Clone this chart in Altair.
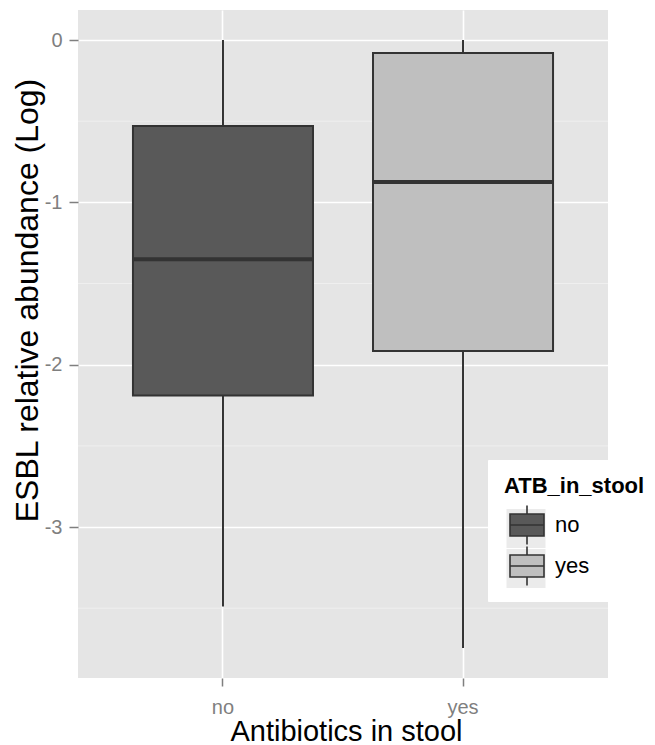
import altair as alt
import pandas as pd

# ---- data ----
groups = ["no", "yes"]
whisker_low = [-3.49, -3.745]
q1 = [-2.19, -1.915]
median = [-1.35, -0.875]
q3 = [-0.53, -0.08]
whisker_high = [0.0, 0.0]
major_ticks = [0, -1, -2, -3]
minor_ticks = [-0.5, -1.5, -2.5, -3.5]
fill_colors = ["#595959", "#BFBFBF"]
key_bg_colors = ["#EBEBEB", "#EBEBEB"]

box_df = pd.DataFrame({
    "ATB_in_stool": groups,
    "key": groups,
    "low": whisker_low,
    "q1": q1,
    "median": median,
    "q3": q3,
    "high": whisker_high,
})
minor_df = pd.DataFrame({"v": minor_ticks})

FONT = "Liberation Sans"
GREY_TXT = "#7F7F7F"
OUTLINE = "#333333"
BLANK = "\u00a0" * 4    # invisible spacer title for the key-background legend

yscale = alt.Scale(domain=[-3.93, 0.185], nice=False, zero=False)
xscale = alt.Scale(domain=groups, paddingInner=0.25, paddingOuter=0.229)

x_axis = alt.Axis(
    title="Antibiotics in stool", labelAngle=0, grid=True, gridColor="white",
    gridWidth=1.6, bandPosition=0.5, domain=False, ticks=True, tickColor=GREY_TXT,
    tickSize=8, tickWidth=1.5, labelColor=GREY_TXT, labelFontSize=20, labelFont=FONT,
    labelPadding=11, labelAlign="center", titleFont=FONT, titleFontSize=29,
    titleFontWeight="normal", titleColor="black", titleX=268, titleY=62,
    titleBaseline="alphabetic", titleAlign="center",
)
y_axis = alt.Axis(
    title="ESBL relative abundance (Log)", values=major_ticks, grid=True,
    gridColor="white", gridWidth=1.6, domain=False, ticks=True, tickColor=GREY_TXT,
    tickSize=9, tickWidth=1.5, labelColor=GREY_TXT, labelFontSize=20, labelFont=FONT,
    labelPadding=7, titleFont=FONT, titleFontSize=32, titleFontWeight="normal",
    titleColor="black", titleAngle=270, titleX=-51, titleY=290,
    titleAlign="center", titleBaseline="middle",
    labelExpr="toString(datum.value)",
)

base = alt.Chart(box_df)

minor = alt.Chart(minor_df).mark_rule(color="#F2F2F2", strokeWidth=0.8).encode(
    y=alt.Y("v:Q", scale=yscale, axis=y_axis)
)

# key background square; the stray zero-width segment only widens the
# white legend box so that it reaches the right edge, as in the reference
key_square = "M-1,-1H1V1H-1Z M6,-1L6,1"

# hidden layer that only provides the grey legend-key backgrounds
key_bg = base.mark_bar(opacity=0).encode(
    x=alt.X("ATB_in_stool:N", scale=xscale, axis=x_axis, sort=groups),
    y=alt.Y("median:Q", scale=yscale),
    y2="median:Q",
    color=alt.Color(
        "key:N",
        scale=alt.Scale(range=key_bg_colors),
        legend=alt.Legend(
            title=BLANK, orient="none", legendX=410, legendY=450,
            padding=13, fillColor="white", strokeColor="white",
            titleFont=FONT, titleFontSize=22, titleFontWeight="bold",
            titleColor="white", titlePadding=14,
            labelFont=FONT, labelFontSize=22, labelExpr="''",
            labelOffset=10, symbolOffset=5.5,
            symbolType=key_square, symbolSize=1521, symbolOpacity=1,
            symbolStrokeColor="white", symbolStrokeWidth=0,
            rowPadding=1,
        ),
    ),
)

whisk = base.mark_rule(color=OUTLINE, strokeWidth=2).encode(
    x=alt.X("ATB_in_stool:N", scale=xscale, axis=x_axis, sort=groups),
    y=alt.Y("low:Q", scale=yscale),
    y2="high:Q",
)

box_glyph = "M-1,-0.65H1V0.65H-1Z M-1,0H1 M0,-0.65V-1.15 M0,0.65V1.15"

box = base.mark_bar(stroke=OUTLINE, strokeWidth=2).encode(
    x=alt.X("ATB_in_stool:N", scale=xscale, axis=x_axis, sort=groups),
    y=alt.Y("q1:Q", scale=yscale),
    y2="q3:Q",
    fill=alt.Fill(
        "ATB_in_stool:N",
        scale=alt.Scale(domain=groups, range=fill_colors),
        legend=alt.Legend(
            title="ATB_in_stool", orient="none", legendX=410, legendY=450,
            padding=16, fillColor="transparent", strokeColor="transparent",
            titleFont=FONT, titleFontSize=22, titleFontWeight="bold",
            titleColor="black", titlePadding=9,
            labelFont=FONT, labelFontSize=22, labelColor="black",
            labelOffset=10, symbolOffset=5,
            symbolType=box_glyph, symbolSize=1156,
            symbolStrokeColor=OUTLINE, symbolStrokeWidth=1.6,
            rowPadding=-5,
        ),
    ),
)

med = base.mark_bar(fill=OUTLINE, stroke=OUTLINE, strokeWidth=4).encode(
    x=alt.X("ATB_in_stool:N", scale=xscale, axis=x_axis, sort=groups),
    y=alt.Y("median:Q", scale=yscale),
    y2="median:Q",
)

chart = alt.layer(minor, key_bg, whisk, box, med).properties(
    width=530, height=668,
    background="white",
    autosize=alt.AutoSizeParams(type="none"),
    padding={"left": 70, "top": 2, "right": 39, "bottom": 67},
).configure_view(
    fill="#E5E5E5", stroke=None
)

chart.save("out.html", embed_options={"renderer": "svg", "actions": False})
